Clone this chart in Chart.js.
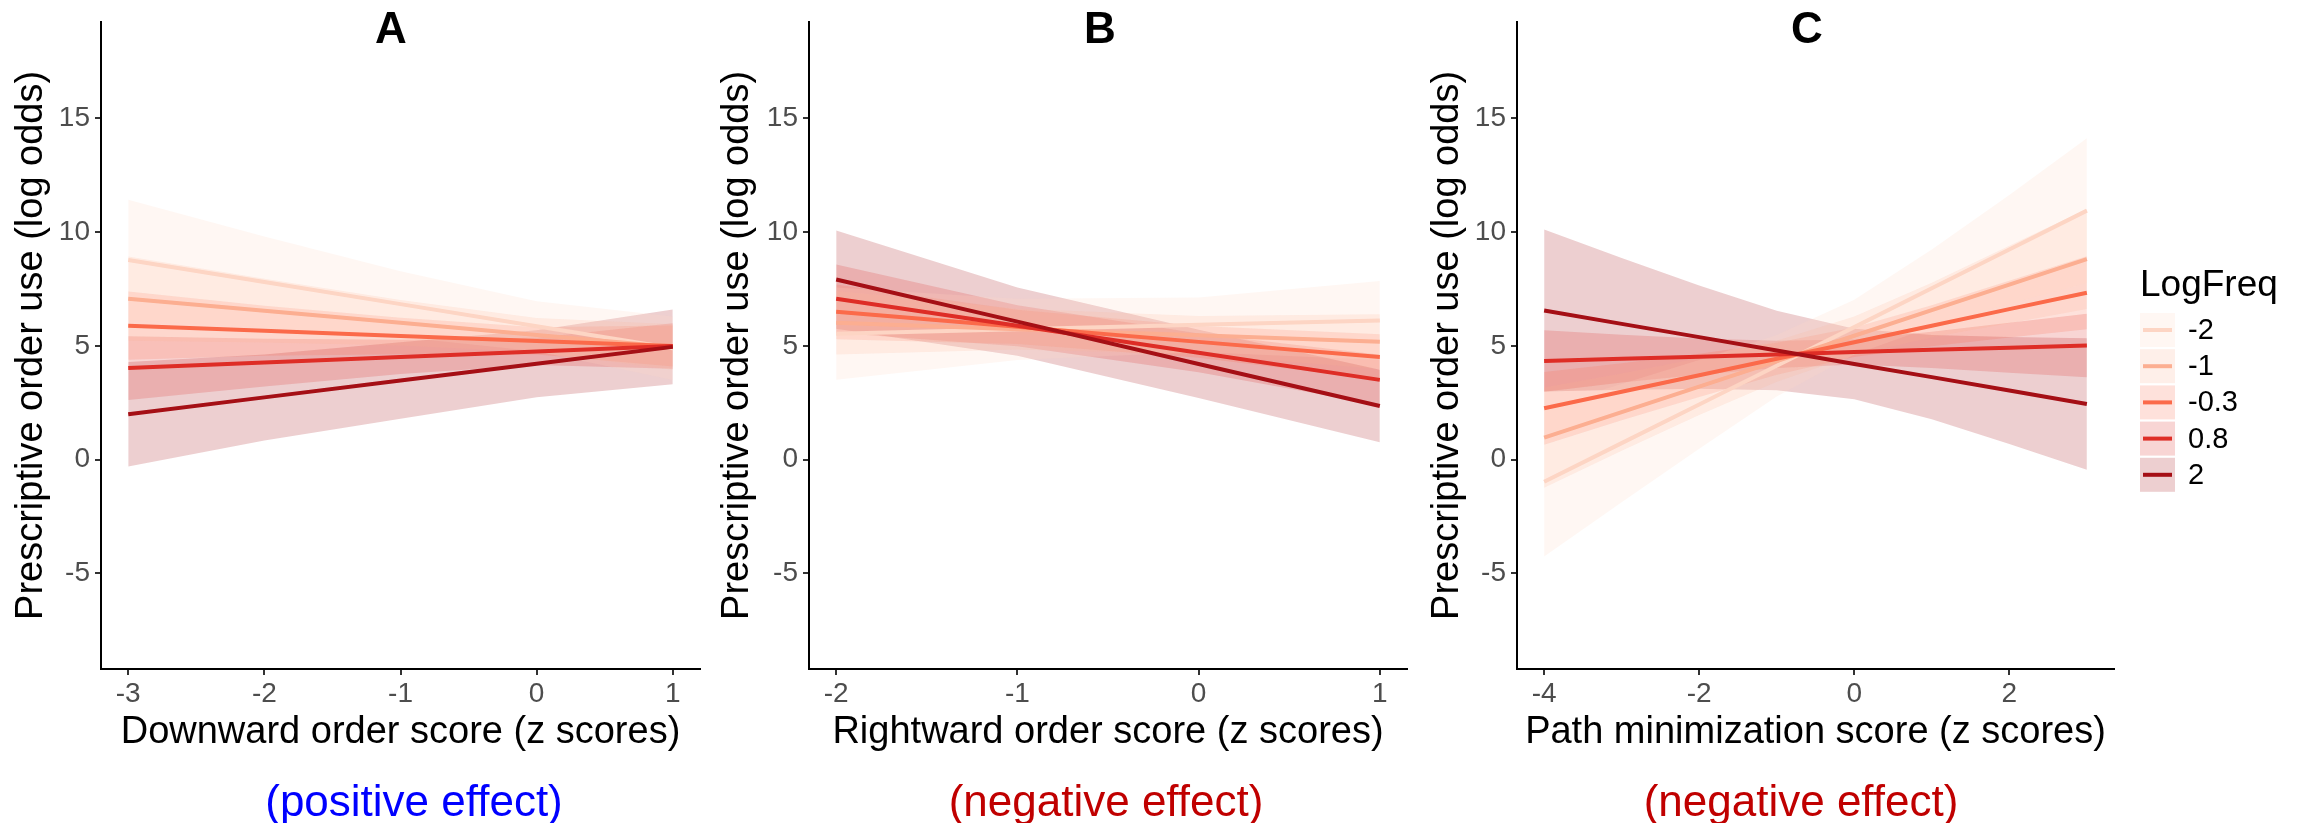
<!DOCTYPE html>
<html>
<head>
<meta charset="utf-8">
<script src="https://cdn.jsdelivr.net/npm/chart.js@4.4.1/dist/chart.umd.min.js"></script>
<style>
  html, body { margin: 0; padding: 0; background: #fff; }
  body { width: 2308px; height: 823px; position: relative; overflow: hidden; }
  canvas { position: absolute; top: 0; }
</style>
</head>
<body>
<canvas id="chartA" width="720" height="823" style="left:0px"></canvas>
<canvas id="chartB" width="715" height="823" style="left:715px"></canvas>
<canvas id="chartC" width="883" height="823" style="left:1425px"></canvas>
<script>
// LogFreq levels (legend order)
const levels = ['-2', '-1', '-0.3', '0.8', '2'];
const yTicks = [-5, 0, 5, 10, 15];

// Panel A - downward order score
const xA = [-3, -2, -1, 0, 1];
const xTicksA = [-3, -2, -1, 0, 1];
const fitA = [
  [8.78, 7.81, 6.84, 5.87, 4.90],
  [7.08, 6.55, 6.02, 5.48, 4.95],
  [5.89, 5.67, 5.44, 5.22, 5.00],
  [4.03, 4.27, 4.52, 4.76, 5.00],
  [2.00, 2.74, 3.48, 4.22, 4.96]
];
const lowA = [
  [6.13, 5.81, 5.39, 4.77, 3.50],
  [5.23, 5.15, 5.02, 4.73, 3.95],
  [4.39, 4.57, 4.64, 4.62, 4.10],
  [2.63, 3.22, 3.77, 4.16, 4.00],
  [-0.30, 0.85, 1.80, 2.75, 3.32]
];
const highA = [
  [11.43, 9.81, 8.29, 6.97, 6.30],
  [8.93, 7.95, 7.02, 6.23, 5.95],
  [7.39, 6.77, 6.24, 5.82, 5.90],
  [5.43, 5.32, 5.27, 5.36, 6.00],
  [4.30, 4.63, 5.16, 5.69, 6.60]
];

// Panel B - rightward order score
const xB = [-2, -1, 0, 1];
const xTicksB = [-2, -1, 0, 1];
const fitB = [
  [5.54, 5.73, 5.93, 6.12],
  [6.02, 5.74, 5.47, 5.19],
  [6.50, 5.84, 5.18, 4.52],
  [7.08, 5.89, 4.70, 3.51],
  [7.92, 6.07, 4.21, 2.36]
];
const lowB = [
  [3.51, 4.38, 4.73, 4.38],
  [4.62, 4.84, 4.62, 3.99],
  [5.30, 5.09, 4.48, 3.52],
  [5.58, 4.99, 3.85, 2.41],
  [5.76, 4.57, 2.71, 0.77]
];
const highB = [
  [7.57, 7.08, 7.13, 7.86],
  [7.42, 6.64, 6.32, 6.39],
  [7.70, 6.59, 5.88, 5.52],
  [8.58, 6.79, 5.55, 4.61],
  [10.08, 7.57, 5.71, 3.95]
];

// Panel C - path minimization score
const xC = [-4, -3, -2, -1, 0, 1, 2, 3];
const xTicksC = [-4, -2, 0, 2];
const fitC = [
  [-0.97, 0.73, 2.43, 4.13, 5.83, 7.54, 9.24, 10.95],
  [0.97, 2.09, 3.21, 4.33, 5.45, 6.58, 7.70, 8.82],
  [2.26, 2.99, 3.71, 4.44, 5.16, 5.89, 6.62, 7.34],
  [4.34, 4.44, 4.53, 4.63, 4.73, 4.83, 4.92, 5.02],
  [6.56, 5.97, 5.39, 4.80, 4.21, 3.63, 3.04, 2.45]
];
const lowC = [
  [-4.25, -1.87, 0.48, 2.78, 4.63, 5.84, 6.84, 7.77],
  [-1.23, 0.39, 1.96, 3.43, 4.60, 5.38, 6.00, 6.62],
  [0.66, 1.74, 2.76, 3.74, 4.51, 4.99, 5.37, 5.74],
  [2.99, 3.39, 3.73, 4.03, 4.18, 4.03, 3.82, 3.62],
  [3.00, 3.07, 3.12, 3.05, 2.66, 1.78, 0.69, -0.44]
];
const highC = [
  [2.31, 3.33, 4.38, 5.48, 7.03, 9.24, 11.64, 14.13],
  [3.17, 3.79, 4.46, 5.23, 6.30, 7.78, 9.40, 11.02],
  [3.86, 4.24, 4.66, 5.14, 5.81, 6.79, 7.87, 8.94],
  [5.69, 5.49, 5.33, 5.23, 5.28, 5.63, 6.02, 6.42],
  [10.12, 8.87, 7.66, 6.55, 5.76, 5.48, 5.39, 5.34]
];

// colours (Reds palette, ribbons at alpha 0.2)
const lineColors = ['#fdd5c4', '#fcae91', '#fb6a4a', '#de2d26', '#a50f15'];
const ribbonColors = ['rgba(253,213,196,0.2)', 'rgba(252,174,145,0.2)', 'rgba(251,106,74,0.2)',
                      'rgba(222,45,38,0.2)', 'rgba(165,15,21,0.2)'];

const FONT = '"Liberation Sans", Arial, sans-serif';

const buildDatasets = (xs, fits, lows, highs) => {
  const pts = arr => arr.map((y, k) => ({ x: xs[k], y: y }));
  const sets = [];
  levels.forEach((lvl, i) => {
    sets.push({
      label: lvl + ' upper', data: pts(highs[i]), borderWidth: 0, borderColor: 'transparent',
      pointRadius: 0, fill: '+1', backgroundColor: ribbonColors[i], order: 10
    });
    sets.push({
      label: lvl + ' lower', data: pts(lows[i]), borderWidth: 0, borderColor: 'transparent',
      pointRadius: 0, fill: false, order: 10
    });
  });
  levels.forEach((lvl, i) => {
    sets.push({
      label: lvl, data: pts(fits[i]), borderColor: lineColors[i], borderWidth: 4,
      pointRadius: 0, fill: false, order: -i
    });
  });
  return sets;
};

// panel letter on top + coloured caption under the chart
const panelText = {
  id: 'panelText',
  afterDraw(chart, args, opts) {
    const ctx = chart.ctx;
    ctx.save();
    ctx.textAlign = 'center';
    ctx.fillStyle = '#000';
    ctx.font = 'bold 44px ' + FONT;
    ctx.textBaseline = 'middle';
    ctx.fillText(opts.title, opts.titleX, 31);
    ctx.font = '44px ' + FONT;
    ctx.fillStyle = opts.captionColor;
    ctx.textBaseline = 'alphabetic';
    ctx.fillText(opts.caption, opts.captionX, 816);
    ctx.restore();
  }
};

// ggplot style legend with ribbon keys (only on panel C)
const ribbonLegend = {
  id: 'ribbonLegend',
  afterDraw(chart, args, opts) {
    if (!opts.show) return;
    const ctx = chart.ctx;
    ctx.save();
    ctx.fillStyle = '#000';
    ctx.font = '37px ' + FONT;
    ctx.textAlign = 'left';
    ctx.textBaseline = 'alphabetic';
    ctx.fillText('LogFreq', opts.x, 296);
    levels.forEach((lvl, i) => {
      const top = 313 + i * 36.2;
      ctx.fillStyle = '#fff';
      ctx.fillRect(opts.x, top, 35, 34);
      ctx.fillStyle = ribbonColors[i];
      ctx.fillRect(opts.x, top, 35, 34);
      ctx.strokeStyle = lineColors[i];
      ctx.lineWidth = 4;
      ctx.beginPath();
      ctx.moveTo(opts.x + 3, top + 17);
      ctx.lineTo(opts.x + 32, top + 17);
      ctx.stroke();
      ctx.fillStyle = '#000';
      ctx.font = '29px ' + FONT;
      ctx.textBaseline = 'middle';
      ctx.fillText(lvl, opts.x + 48, top + 18);
      ctx.textBaseline = 'alphabetic';
    });
    ctx.restore();
  }
};

const makeChart = (id, cfg) => {
  const tickFont = { family: FONT, size: 28 };
  const titleFont = { family: FONT, size: 38 };
  return new Chart(document.getElementById(id), {
    type: 'line',
    data: { datasets: buildDatasets(cfg.xs, cfg.fits, cfg.lows, cfg.highs) },
    plugins: [panelText, ribbonLegend],
    options: {
      responsive: false,
      animation: false,
      devicePixelRatio: 1,
      layout: { padding: { left: 0, top: 8, right: cfg.padRight, bottom: 68 } },
      plugins: {
        legend: { display: false },
        tooltip: { enabled: false },
        panelText: { title: cfg.title, titleX: cfg.titleX, caption: cfg.caption,
                     captionX: cfg.captionX, captionColor: cfg.captionColor },
        ribbonLegend: { show: !!cfg.legendX, x: cfg.legendX }
      },
      scales: {
        x: {
          type: 'linear', min: cfg.xMin, max: cfg.xMax,
          afterBuildTicks: s => { s.ticks = cfg.xTicks.map(v => ({ value: v })); },
          afterFit: s => { s.height = 86; },
          ticks: { font: tickFont, color: '#4d4d4d', padding: 2, maxRotation: 0 },
          grid: { drawOnChartArea: false, drawTicks: true, tickLength: 6, color: '#333', lineWidth: 2 },
          border: { display: true, color: '#000', width: 2 },
          title: { display: true, text: cfg.xTitle, font: titleFont, color: '#000', padding: { top: 0, bottom: 0 } }
        },
        y: {
          type: 'linear', min: -9.2, max: 19.25,
          afterBuildTicks: s => { s.ticks = yTicks.map(v => ({ value: v })); },
          afterFit: s => { s.width = cfg.yWidth; },
          ticks: { font: tickFont, color: '#4d4d4d', padding: 5 },
          grid: { drawOnChartArea: false, drawTicks: true, tickLength: 6, color: '#333', lineWidth: 2 },
          border: { display: true, color: '#000', width: 2 },
          title: { display: true, text: 'Prescriptive order use (log odds)', font: titleFont, color: '#000',
                   padding: { top: cfg.yTitlePad, bottom: 0 } }
        }
      }
    }
  });
};

makeChart('chartA', {
  xs: xA, fits: fitA, lows: lowA, highs: highA, xTicks: xTicksA, xMin: -3.2, xMax: 1.2,
  xTitle: 'Downward order score (z scores)', yWidth: 101, yTitlePad: 9, padRight: 20,
  title: 'A', titleX: 391, caption: '(positive effect)', captionX: 414, captionColor: '#0000ff'
});
makeChart('chartB', {
  xs: xB, fits: fitB, lows: lowB, highs: highB, xTicks: xTicksB, xMin: -2.15, xMax: 1.15,
  xTitle: 'Rightward order score (z scores)', yWidth: 94, yTitlePad: 0, padRight: 23,
  title: 'B', titleX: 385, caption: '(negative effect)', captionX: 391, captionColor: '#c00000'
});
makeChart('chartC', {
  xs: xC, fits: fitC, lows: lowC, highs: highC, xTicks: xTicksC, xMin: -4.35, xMax: 3.35,
  xTitle: 'Path minimization score (z scores)', yWidth: 92, yTitlePad: 0, padRight: 194,
  title: 'C', titleX: 382, caption: '(negative effect)', captionX: 376, captionColor: '#c00000',
  legendX: 715
});
</script>
</body>
</html>
